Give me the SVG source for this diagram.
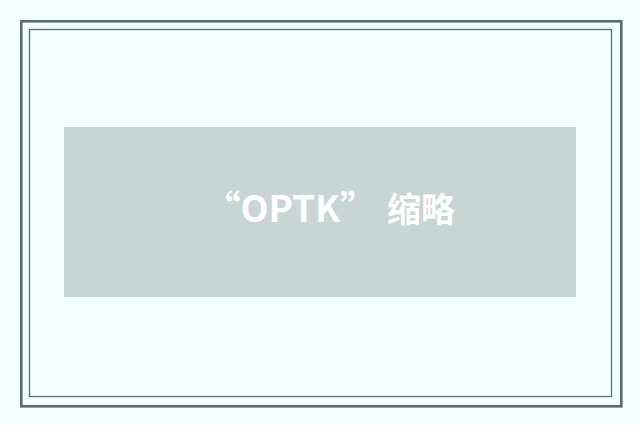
<svg xmlns="http://www.w3.org/2000/svg" width="640" height="425" viewBox="0 0 640 425">
<style>
.frame{fill:none;stroke:#5B6B6A}
.label{font-family:"Noto Sans CJK SC","Liberation Sans",sans-serif;font-weight:bold;font-size:34px;fill:#FFFFFF}
.latin{font-size:36.5px}
</style>
<rect x="0" y="0" width="640" height="425" fill="#F3FFFF"/>
<g id="frame">
<rect class="frame" x="21.3" y="21.3" width="600" height="385" stroke-width="2.6"/>
<rect class="frame" x="29.5" y="29.5" width="582" height="367" stroke-width="1.3"/>
</g>
<g id="banner">
<rect x="64" y="127" width="512" height="170" fill="#C7D5D4"/>
<text class="label" y="222"><tspan class="latin" x="204">“OPTK”</tspan><tspan x="387">缩略</tspan></text>
</g>
</svg>
